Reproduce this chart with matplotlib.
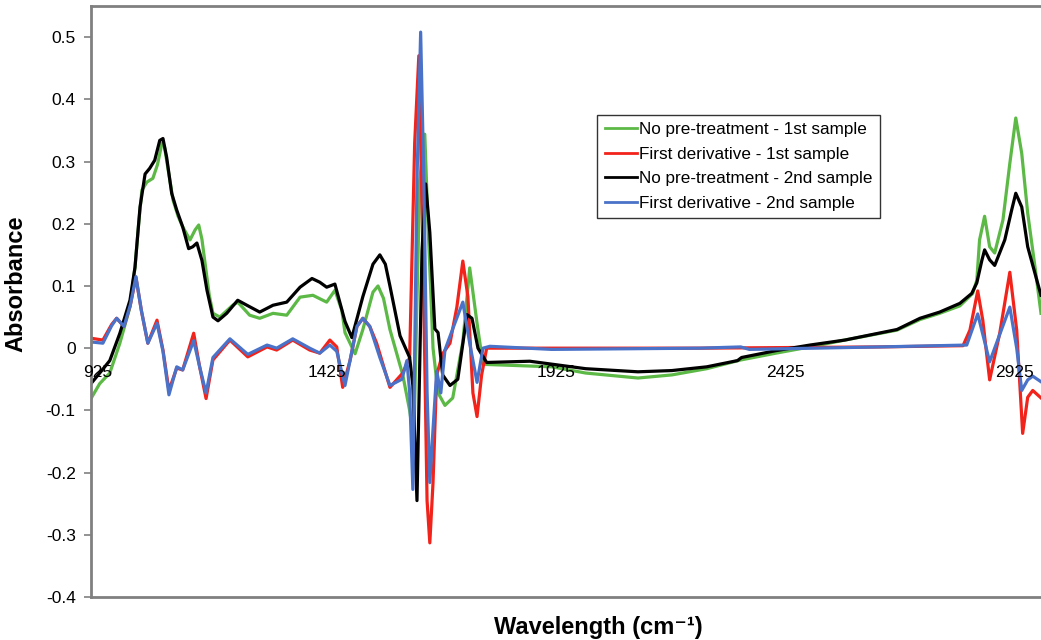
import numpy as np
import matplotlib.pyplot as plt

plt.rcParams['font.family'] = ['Liberation Sans', 'DejaVu Sans']
plt.rcParams['axes.unicode_minus'] = False

# No pre-treatment - 1st sample
green_x = [910, 929, 951, 973, 995, 1006, 1014, 1021, 1032, 1045, 1055, 1065, 1070, 1075, 1089,
           1100, 1110, 1126, 1137, 1145, 1152, 1158, 1168, 1176, 1191, 1219, 1230, 1245, 1256,
           1278, 1307, 1337, 1366, 1394, 1424, 1442, 1457, 1464, 1486, 1503, 1525, 1536, 1548,
           1562, 1590, 1605, 1614, 1627, 1638, 1645, 1656, 1667, 1682, 1699, 1721, 1736, 1752,
           1765, 1802, 1915, 1989, 2103, 2177, 2253, 2327, 2404, 2478, 2554, 2668, 2718, 2761,
           2805, 2833, 2842, 2848, 2859, 2870, 2881, 2899, 2914, 2927, 2940, 2953, 2969, 2982]
green_y = [-0.081, -0.057, -0.040, 0.008, 0.066, 0.130, 0.200, 0.254, 0.267, 0.273, 0.295, 0.330,
           0.325, 0.302, 0.238, 0.212, 0.195, 0.174, 0.190, 0.198, 0.175, 0.141, 0.085, 0.056,
           0.050, 0.069, 0.074, 0.062, 0.053, 0.048, 0.056, 0.053, 0.082, 0.085, 0.074, 0.093,
           0.061, 0.025, -0.009, 0.030, 0.090, 0.100, 0.080, 0.030, -0.043, -0.100, -0.150,
           0.270, 0.344, 0.200, 0.000, -0.072, -0.092, -0.080, 0.010, 0.129, 0.040, -0.026,
           -0.027, -0.030, -0.040, -0.048, -0.043, -0.033, -0.019, -0.008, 0.002, 0.013, 0.029,
           0.046, 0.056, 0.068, 0.088, 0.109, 0.174, 0.212, 0.163, 0.153, 0.206, 0.297, 0.370,
           0.313, 0.217, 0.130, 0.056]

# First derivative - 1st sample
red_x = [910, 936, 955, 966, 982, 996, 1008, 1020, 1034, 1054, 1067, 1080, 1097, 1110, 1134,
         1147, 1161, 1176, 1213, 1252, 1294, 1315, 1350, 1387, 1409, 1431, 1446, 1459, 1475,
         1490, 1503, 1518, 1533, 1562, 1590, 1605, 1616, 1625, 1634, 1643, 1649, 1656, 1664,
         1677, 1693, 1708, 1721, 1732, 1743, 1752, 1762, 1773, 1911, 2238, 2631, 2812, 2827,
         2844, 2855, 2870, 2892, 2914, 2929, 2942, 2953, 2964, 2982]
red_y = [0.016, 0.013, 0.038, 0.048, 0.035, 0.070, 0.114, 0.060, 0.008, 0.045, -0.003, -0.068,
         -0.032, -0.035, 0.024, -0.030, -0.081, -0.019, 0.013, -0.014, 0.002, -0.003, 0.013,
         -0.003, -0.008, 0.013, 0.002, -0.063, -0.020, 0.035, 0.048, 0.035, 0.008, -0.063,
         -0.040, -0.015, 0.330, 0.470, 0.157, -0.245, -0.313, -0.216, -0.043, -0.009, 0.008,
         0.066, 0.140, 0.083, -0.072, -0.110, -0.043, 0.000, 0.000, 0.000, 0.002, 0.004, 0.029,
         0.092, 0.045, -0.051, 0.024, 0.122, 0.029, -0.137, -0.079, -0.068, -0.080]

# No pre-treatment - 2nd sample
black_x = [910, 929, 951, 973, 995, 1006, 1017, 1028, 1038, 1049, 1060, 1067, 1075, 1086, 1097,
           1110, 1123, 1132, 1141, 1152, 1163, 1176, 1187, 1206, 1230, 1250, 1278, 1307, 1337,
           1366, 1392, 1409, 1424, 1442, 1464, 1479, 1503, 1525, 1540, 1552, 1562, 1584, 1605,
           1612, 1621, 1632, 1640, 1649, 1660, 1667, 1677, 1693, 1710, 1730, 1741, 1754, 1773,
           1867, 1989, 2103, 2177, 2253, 2320, 2329, 2404, 2478, 2554, 2668, 2718, 2761, 2805,
           2831, 2842, 2853, 2859, 2870, 2881, 2903, 2918, 2927, 2940, 2953, 2973, 2982]
black_y = [-0.057, -0.040, -0.020, 0.024, 0.077, 0.130, 0.227, 0.280, 0.289, 0.302, 0.334, 0.337,
           0.307, 0.249, 0.222, 0.195, 0.160, 0.163, 0.169, 0.141, 0.093, 0.050, 0.044, 0.056,
           0.077, 0.069, 0.058, 0.069, 0.074, 0.098, 0.112, 0.106, 0.098, 0.103, 0.043, 0.017,
           0.083, 0.135, 0.150, 0.135, 0.100, 0.020, -0.015, -0.060, -0.245, 0.157, 0.264, 0.186,
           0.031, 0.025, -0.043, -0.060, -0.050, 0.054, 0.048, 0.000, -0.023, -0.021, -0.033,
           -0.038, -0.036, -0.030, -0.020, -0.015, -0.004, 0.005, 0.013, 0.030, 0.048, 0.058,
           0.072, 0.088, 0.105, 0.141, 0.158, 0.142, 0.133, 0.174, 0.222, 0.249, 0.227, 0.163,
           0.109, 0.085]

# First derivative - 2nd sample
blue_x = [910, 936, 955, 966, 982, 996, 1008, 1020, 1034, 1054, 1067, 1080, 1097, 1110, 1134,
          1147, 1161, 1176, 1213, 1252, 1294, 1315, 1350, 1387, 1409, 1431, 1446, 1464, 1490,
          1503, 1518, 1540, 1562, 1588, 1599, 1605, 1612, 1621, 1629, 1636, 1643, 1649, 1656,
          1664, 1673, 1682, 1699, 1721, 1736, 1752, 1765, 1780, 1915, 2238, 2327, 2346, 2631,
          2820, 2844, 2870, 2914, 2929, 2940, 2953, 2964, 2982]
blue_y = [0.010, 0.008, 0.036, 0.048, 0.035, 0.070, 0.115, 0.060, 0.008, 0.040, -0.005, -0.075,
          -0.030, -0.035, 0.012, -0.030, -0.072, -0.015, 0.015, -0.010, 0.005, 0.000, 0.015,
          0.000, -0.008, 0.005, -0.005, -0.060, 0.035, 0.048, 0.035, -0.015, -0.060, -0.050,
          -0.020, -0.070, -0.227, 0.270, 0.508, 0.270, -0.070, -0.216, -0.130, -0.037, -0.072,
          -0.003, 0.031, 0.074, 0.008, -0.055, 0.000, 0.003, -0.002, 0.000, 0.002, -0.002, 0.002,
          0.005, 0.055, -0.022, 0.066, 0.000, -0.068, -0.051, -0.045, -0.054]

labels = ['No pre-treatment - 1st sample', 'First derivative - 1st sample',
          'No pre-treatment - 2nd sample', 'First derivative - 2nd sample']
x_ticks = [925, 1425, 1925, 2425, 2925]
y_ticks = [-0.4, -0.3, -0.2, -0.1, 0, 0.1, 0.2, 0.3, 0.4, 0.5]
y_tick_labels = ['-0.4', '-0.3', '-0.2', '-0.1', '0', '0.1', '0.2', '0.3', '0.4', '0.5']

fig = plt.figure(figsize=(10.41, 6.40), dpi=100)
ax = fig.add_axes([0.0874, 0.0672, 0.9126, 0.9234])

lw = 2.3
ax.plot(green_x, green_y, color='#5cb946', lw=lw, label=labels[0])
ax.plot(red_x, red_y, color='#f2231b', lw=lw, label=labels[1])
ax.plot(black_x, black_y, color='black', lw=lw, label=labels[2])
ax.plot(blue_x, blue_y, color='#4a72c8', lw=lw, label=labels[3])

ax.set_xlim(910, 2982)
ax.set_ylim(-0.4, 0.55)

ax.set_yticks(y_ticks)
ax.set_yticklabels(y_tick_labels, fontsize=12.5)
ax.tick_params(axis='y', direction='out', length=5, width=1.2, color='#808080', pad=6)
ax.set_xticks([])
for xt in x_ticks:
    ax.text(xt, -0.0386, str(xt), ha='center', va='center', fontsize=12.5)

for side in ['left', 'top', 'bottom']:
    ax.spines[side].set_color('#808080')
    ax.spines[side].set_linewidth(2)
ax.spines['right'].set_visible(False)

ax.set_ylabel('Absorbance', fontsize=17, fontweight='bold')
ax.yaxis.set_label_coords(-0.067, 0.53)
ax.set_xlabel('Wavelength (cm⁻¹)', fontsize=17, fontweight='bold')
ax.xaxis.set_label_coords(0.534, -0.033)

leg = ax.legend(loc='upper left', bbox_to_anchor=(0.533, 0.816), borderaxespad=0,
                fontsize=12.3, frameon=True, fancybox=False, handlelength=1.85,
                handletextpad=0.15, labelspacing=0.55, borderpad=0.45)
leg.get_frame().set_edgecolor('black')
leg.get_frame().set_linewidth(1.0)
for line in leg.get_lines():
    line.set_linewidth(2)

fig.savefig('out.png', dpi=100)
